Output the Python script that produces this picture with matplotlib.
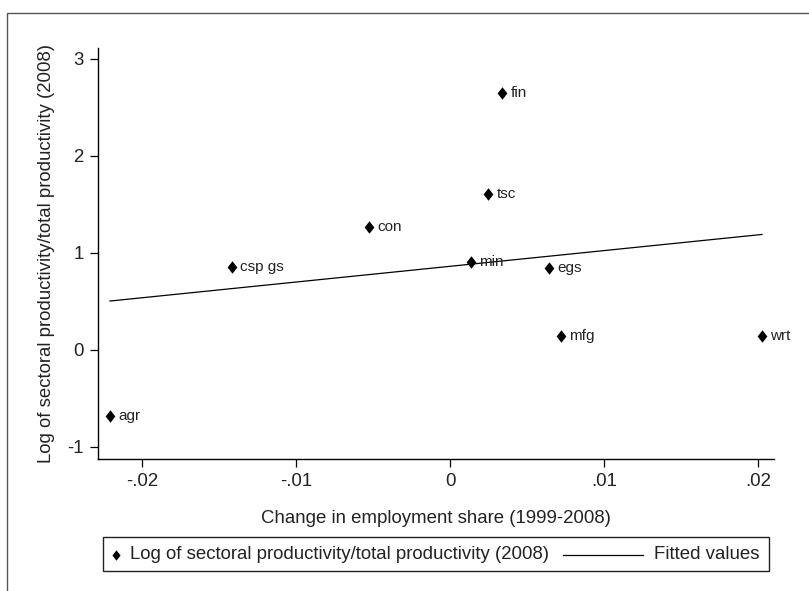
import numpy as np
import matplotlib
matplotlib.use("Agg")
import matplotlib.pyplot as plt
from matplotlib.patches import Rectangle
from matplotlib.lines import Line2D
from matplotlib.path import Path

plt.rcParams['font.family'] = ['Liberation Sans', 'DejaVu Sans']

# Sector data: change in employment share vs. log relative productivity
sectors = ["fin", "tsc", "con", "csp gs", "min", "egs", "mfg", "wrt", "agr"]
emp_share_change = [0.00338, 0.00247, -0.00526, -0.01416, 0.00136, 0.00643, 0.00721, 0.02026, -0.02208]
log_rel_productivity = [2.65, 1.61, 1.27, 0.86, 0.91, 0.845, 0.145, 0.145, -0.68]

x_ticks = [-0.02, -0.01, 0.0, 0.01, 0.02]
x_tick_labels = ["-.02", "-.01", "0", ".01", ".02"]
y_ticks = [-1, 0, 1, 2, 3]
y_tick_labels = ["-1", "0", "1", "2", "3"]

W, H = 809, 591
fig = plt.figure(figsize=(W / 100, H / 100), dpi=100)
fig.patch.set_facecolor("white")

def fx(px):
    return px / W

def fy(py):
    return 1 - py / H

# Slightly tall diamond marker
diamond = Path([(0, 1), (0.78, 0), (0, -1), (-0.78, 0), (0, 1)],
               [Path.MOVETO, Path.LINETO, Path.LINETO, Path.LINETO, Path.CLOSEPOLY])

ax = fig.add_axes([fx(98), fy(459), fx(774) - fx(98), fy(48) - fy(459)])
txt_col = "#222222"
big = 13.4

x = np.array(emp_share_change)
y = np.array(log_rel_productivity)

# Linear fit over the observed range
slope, intercept = np.polyfit(x, y, 1)
xf = np.array([x.min(), x.max()])
ax.plot(xf, intercept + slope * xf, color="black", lw=0.9, zorder=2)

ax.plot(x, y, linestyle="none", marker=diamond, ms=9.0, color="black",
        markeredgewidth=0, zorder=3)
for name, xi, yi in zip(sectors, x, y):
    ax.annotate(name, (xi, yi), xytext=(6.0, 0), textcoords="offset points",
                ha="left", va="center", fontsize=11, color=txt_col)

ax.set_xlim(-0.02286, 0.02104)
ax.set_ylim(-1.124, 3.113)
ax.set_xticks(x_ticks)
ax.set_xticklabels(x_tick_labels)
ax.set_yticks(y_ticks)
ax.set_yticklabels(y_tick_labels)
for s in ["top", "right"]:
    ax.spines[s].set_visible(False)
for s in ["left", "bottom"]:
    ax.spines[s].set_linewidth(1.0)
    ax.spines[s].set_color("black")
ax.tick_params(axis="both", direction="out", length=5.8, width=0.9,
               labelsize=big, colors="black", labelcolor=txt_col)
ax.tick_params(axis="x", pad=4.5)
ax.tick_params(axis="y", pad=4.5)
ax.set_xlabel("Change in employment share (1999-2008)", fontsize=big,
              color=txt_col, labelpad=14)
ax.set_ylabel("Log of sectoral productivity/total productivity (2008)",
              fontsize=big, color=txt_col, labelpad=9)

# Outer frame (open on the right and bottom edges)
fig.add_artist(Rectangle((fx(6.5), -0.1), 1.2, fy(13) + 0.1, fill=False,
                         edgecolor="#555555", lw=1.0,
                         transform=fig.transFigure))

# Legend box
ly = fy(554.5)
fig.add_artist(Rectangle((fx(103), fy(571)), fx(769) - fx(103), fy(537) - fy(571),
                         fill=False, edgecolor="#222222", lw=1.0,
                         transform=fig.transFigure))
fig.add_artist(Line2D([fx(115.5)], [ly], marker=diamond, ms=7.5, color="black",
                      markeredgewidth=0, linestyle="none",
                      transform=fig.transFigure))
fig.text(fx(130), ly, "Log of sectoral productivity/total productivity (2008)",
         ha="left", va="center", fontsize=big, color=txt_col)
fig.add_artist(Line2D([fx(563), fx(643)], [ly, ly], color="black", lw=0.9,
                      transform=fig.transFigure))
fig.text(fx(654), ly, "Fitted values", ha="left", va="center",
         fontsize=big, color=txt_col)

fig.savefig("out.png", dpi=100, facecolor="white")
